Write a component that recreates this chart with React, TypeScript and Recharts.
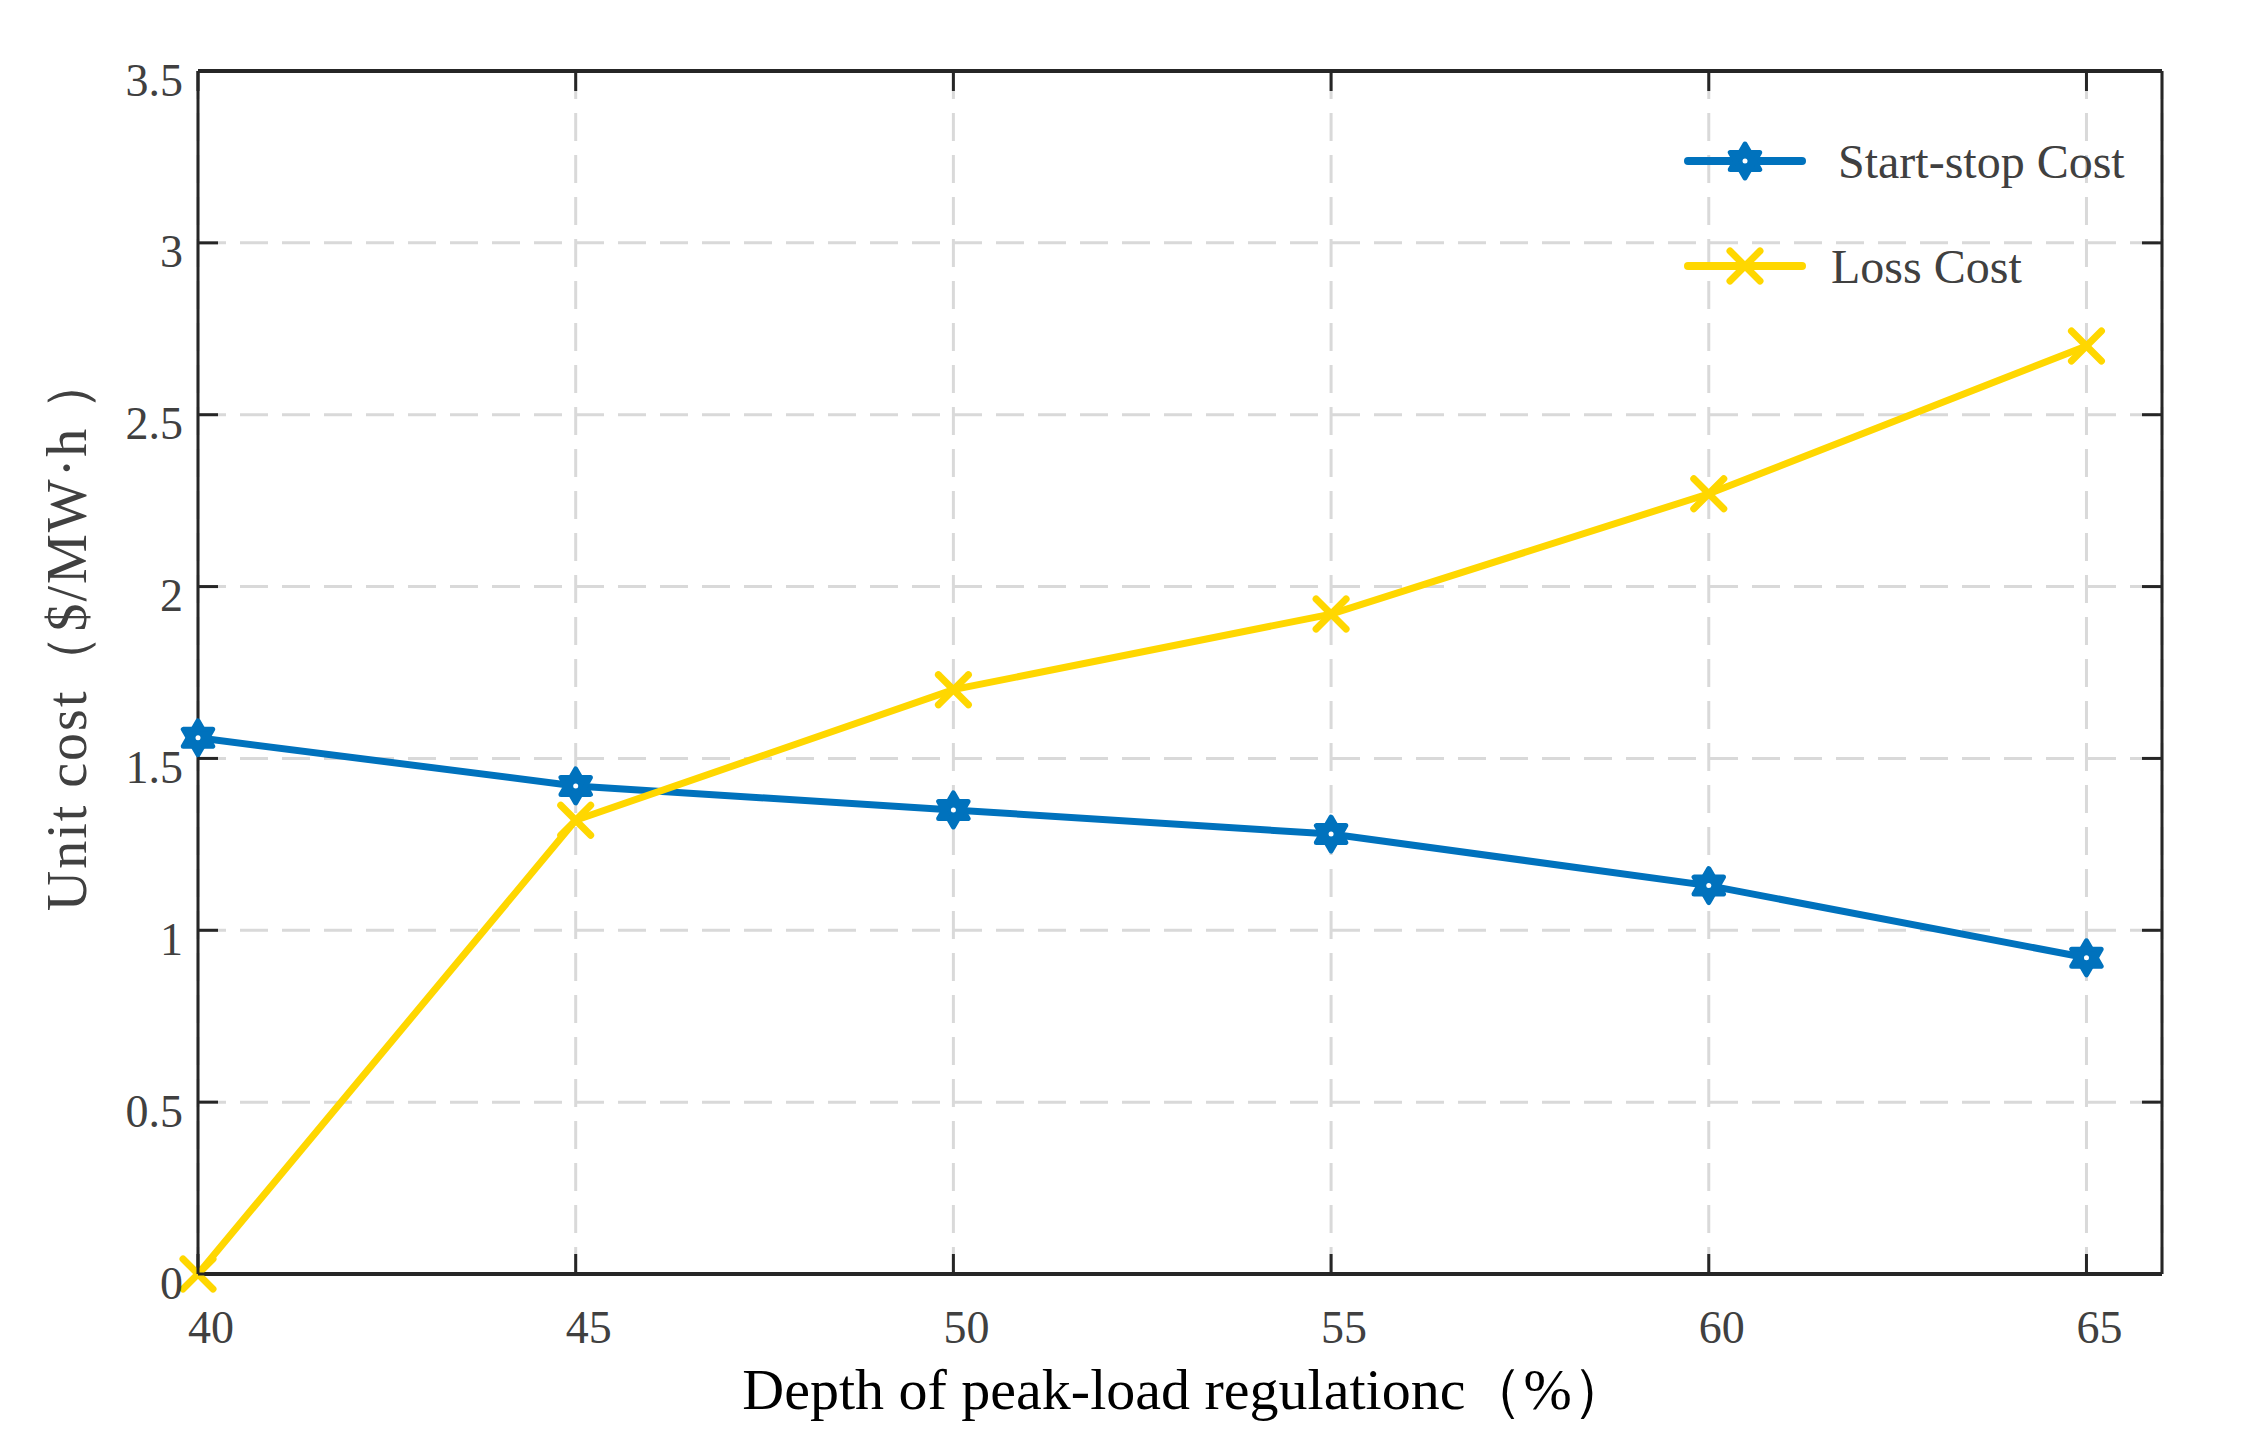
import React from "react";
import { LineChart, Line, XAxis, YAxis, CartesianGrid } from "recharts";

// values
const depth = [40, 45, 50, 55, 60, 65];
const startStopCost = [1.56, 1.42, 1.35, 1.28, 1.13, 0.92];
const lossCost = [0, 1.32, 1.7, 1.92, 2.27, 2.7];
const xTicks = [40, 45, 50, 55, 60, 65];
const yTicks = [0, 0.5, 1, 1.5, 2, 2.5, 3, 3.5];

const BLUE = "#0072BD";
const YELLOW = "#FFD700";
const AXIS = "#262626";
const TEXT = "#404040";
const FONT = '"Liberation Serif", "Times New Roman", serif';
const TICK_LEN = 20;

const W = 2242;
const H = 1440;
const MARGIN = { top: 70, right: 79, bottom: 66, left: 78 };
const Y_AXIS_W = 120;
const X_AXIS_H = 100;
// plot box size, used to mirror the inward ticks onto the top and right edges
const PLOT_W = W - MARGIN.left - MARGIN.right - Y_AXIS_W - 1;
const PLOT_H = H - MARGIN.top - MARGIN.bottom - X_AXIS_H - 1;

const data = depth.map((d, i) => ({
  depth: d,
  startStop: startStopCost[i],
  loss: lossCost[i],
}));

function hexagram(cx: number, cy: number, r: number) {
  const tri = (rot: number) =>
    [0, 1, 2]
      .map((k) => {
        const a = rot + (k * 2 * Math.PI) / 3;
        return `${cx + r * Math.sin(a)},${cy - r * Math.cos(a)}`;
      })
      .join(" ");
  return [tri(0), tri(Math.PI)];
}

function StarDot(props: any) {
  const { cx, cy, key } = props;
  if (cx == null || cy == null) return null;
  const [a, b] = hexagram(cx, cy, 17);
  return (
    <g key={key}>
      <polygon points={a} fill={BLUE} stroke={BLUE} strokeWidth={5} strokeLinejoin="round" />
      <polygon points={b} fill={BLUE} stroke={BLUE} strokeWidth={5} strokeLinejoin="round" />
      <circle cx={cx} cy={cy} r={2.5} fill="#fff" />
    </g>
  );
}

function CrossDot(props: any) {
  const { cx, cy, key } = props;
  if (cx == null || cy == null) return null;
  const s = 15;
  return (
    <g key={key} stroke={YELLOW} strokeWidth={7} strokeLinecap="round">
      <line x1={cx - s} y1={cy - s} x2={cx + s} y2={cy + s} />
      <line x1={cx - s} y1={cy + s} x2={cx + s} y2={cy - s} />
    </g>
  );
}

function BottomTick(props: any) {
  const { x, y, payload } = props;
  const top = y - PLOT_H;
  return (
    <g>
      <line x1={x} y1={y} x2={x} y2={y - TICK_LEN} stroke={AXIS} strokeWidth={3} />
      <line x1={x} y1={top} x2={x} y2={top + TICK_LEN} stroke={AXIS} strokeWidth={3} />
      <text x={x + 13} y={y + 53} textAnchor="middle" dominantBaseline="central"
        fill={TEXT} fontSize={46} fontFamily={FONT}>
        {payload.value}
      </text>
    </g>
  );
}

function LeftTick(props: any) {
  const { x, y, payload } = props;
  const right = x + PLOT_W;
  return (
    <g>
      <line x1={x} y1={y} x2={x + TICK_LEN} y2={y} stroke={AXIS} strokeWidth={3} />
      <line x1={right} y1={y} x2={right - TICK_LEN} y2={y} stroke={AXIS} strokeWidth={3} />
      <text x={x - 15} y={y + 9} textAnchor="end" dominantBaseline="central"
        fill={TEXT} fontSize={46} fontFamily={FONT}>
        {payload.value}
      </text>
    </g>
  );
}

function LegendIcon({ kind }: { kind: "star" | "cross" }) {
  const color = kind === "star" ? BLUE : YELLOW;
  return (
    <svg width={124} height={50} style={{ display: "block" }}>
      <line x1={5} y1={25} x2={119} y2={25} stroke={color} strokeWidth={8} strokeLinecap="round" />
      {kind === "star" ? <StarDot cx={62} cy={25} /> : <CrossDot cx={62} cy={25} />}
    </svg>
  );
}

function LegendBox() {
  const rows = [
    { kind: "star" as const, label: "Start-stop Cost", gap: 31, top: 136 },
    { kind: "cross" as const, label: "Loss Cost", gap: 24, top: 241 },
  ];
  return (
    <>
      {rows.map((r) => (
        <div
          key={r.label}
          style={{
            position: "absolute",
            left: 1683,
            top: r.top,
            display: "flex",
            alignItems: "center",
            height: 50,
            fontFamily: FONT,
            fontSize: 48,
            color: TEXT,
          }}
        >
          <LegendIcon kind={r.kind} />
          <span style={{ marginLeft: r.gap, whiteSpace: "nowrap" }}>{r.label}</span>
        </div>
      ))}
    </>
  );
}

export default function App() {
  return (
    <div style={{ position: "absolute", left: 0, top: 0, width: W, height: H, background: "#fff" }}>
      <LineChart width={W} height={H} data={data} margin={MARGIN}>
        <CartesianGrid stroke="#d9d9d9" strokeWidth={3} strokeDasharray="28 14" />
        <XAxis
          dataKey="depth"
          type="number"
          domain={[40, 66]}
          ticks={xTicks}
          height={X_AXIS_H}
          tickSize={0}
          tickMargin={0}
          tickLine={false}
          axisLine={{ stroke: AXIS, strokeWidth: 4 }}
          tick={<BottomTick />}
          interval={0}
          label={{
            content: () => (
              <text x={1186} y={1389} textAnchor="middle" dominantBaseline="central"
                fill="#000" fontSize={58} fontFamily={FONT}>
                Depth of peak-load regulationc（%）
              </text>
            ),
          }}
        />
        <XAxis
          xAxisId="top"
          orientation="top"
          dataKey="depth"
          type="number"
          domain={[40, 66]}
          ticks={xTicks}
          height={1}
          tickLine={false}
          axisLine={{ stroke: AXIS, strokeWidth: 4 }}
          tick={false}
        />
        <YAxis
          type="number"
          domain={[0, 3.5]}
          ticks={yTicks}
          width={Y_AXIS_W}
          tickSize={0}
          tickMargin={0}
          tickLine={false}
          axisLine={{ stroke: AXIS, strokeWidth: 3 }}
          tick={<LeftTick />}
          interval={0}
          label={{
            content: () => (
              <text x={67} y={632} transform="rotate(-90, 67, 632)" textAnchor="middle"
                dominantBaseline="central" fill={TEXT} fontSize={56} fontFamily={FONT}
                letterSpacing={2}>
                Unit cost（$/MW·h ）
              </text>
            ),
          }}
        />
        <YAxis
          yAxisId="right"
          orientation="right"
          type="number"
          domain={[0, 3.5]}
          ticks={yTicks}
          width={1}
          tickLine={false}
          axisLine={{ stroke: AXIS, strokeWidth: 3 }}
          tick={false}
        />
        <Line
          dataKey="startStop"
          name="Start-stop Cost"
          stroke={BLUE}
          strokeWidth={7}
          dot={<StarDot />}
          activeDot={false}
          isAnimationActive={false}
        />
        <Line
          dataKey="loss"
          name="Loss Cost"
          stroke={YELLOW}
          strokeWidth={7}
          dot={<CrossDot />}
          activeDot={false}
          isAnimationActive={false}
        />
      </LineChart>
      <LegendBox />
    </div>
  );
}
